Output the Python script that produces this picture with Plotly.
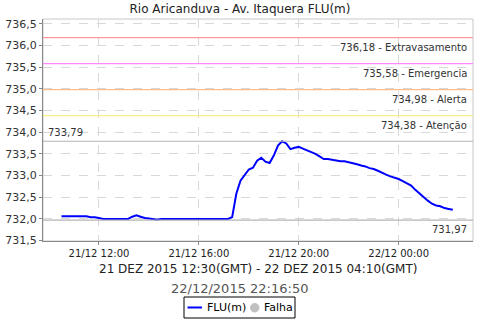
import plotly.graph_objects as go

# ---- data ----
times = [
    "2015-12-21 10:30", "2015-12-21 10:40", "2015-12-21 10:50", "2015-12-21 11:00",
    "2015-12-21 11:10", "2015-12-21 11:20", "2015-12-21 11:30", "2015-12-21 11:40",
    "2015-12-21 11:50", "2015-12-21 12:00", "2015-12-21 12:10", "2015-12-21 12:20",
    "2015-12-21 12:30", "2015-12-21 12:40", "2015-12-21 12:50", "2015-12-21 13:00",
    "2015-12-21 13:10", "2015-12-21 13:20", "2015-12-21 13:30", "2015-12-21 13:40",
    "2015-12-21 13:50", "2015-12-21 14:00", "2015-12-21 14:10", "2015-12-21 14:20",
    "2015-12-21 14:30", "2015-12-21 14:40", "2015-12-21 14:50", "2015-12-21 15:00",
    "2015-12-21 15:10", "2015-12-21 15:20", "2015-12-21 15:30", "2015-12-21 15:40",
    "2015-12-21 15:50", "2015-12-21 16:00", "2015-12-21 16:10", "2015-12-21 16:20",
    "2015-12-21 16:30", "2015-12-21 16:40", "2015-12-21 16:50", "2015-12-21 17:00",
    "2015-12-21 17:10", "2015-12-21 17:20", "2015-12-21 17:30", "2015-12-21 17:40",
    "2015-12-21 17:50", "2015-12-21 18:00", "2015-12-21 18:10", "2015-12-21 18:20",
    "2015-12-21 18:30", "2015-12-21 18:40", "2015-12-21 18:50", "2015-12-21 19:00",
    "2015-12-21 19:10", "2015-12-21 19:20", "2015-12-21 19:30", "2015-12-21 19:40",
    "2015-12-21 19:50", "2015-12-21 20:00", "2015-12-21 20:10", "2015-12-21 20:20",
    "2015-12-21 20:30", "2015-12-21 20:40", "2015-12-21 20:50", "2015-12-21 21:00",
    "2015-12-21 21:10", "2015-12-21 21:20", "2015-12-21 21:30", "2015-12-21 21:40",
    "2015-12-21 21:50", "2015-12-21 22:00", "2015-12-21 22:10", "2015-12-21 22:20",
    "2015-12-21 22:30", "2015-12-21 22:40", "2015-12-21 22:50", "2015-12-21 23:00",
    "2015-12-21 23:10", "2015-12-21 23:20", "2015-12-21 23:30", "2015-12-21 23:40",
    "2015-12-21 23:50", "2015-12-22 00:00", "2015-12-22 00:10", "2015-12-22 00:20",
    "2015-12-22 00:30", "2015-12-22 00:40", "2015-12-22 00:50", "2015-12-22 01:00",
    "2015-12-22 01:10", "2015-12-22 01:20", "2015-12-22 01:30", "2015-12-22 01:40",
    "2015-12-22 01:50", "2015-12-22 02:00", "2015-12-22 02:10",
]
flu = [
    732.06, 732.06, 732.06, 732.06, 732.06, 732.06, 732.06, 732.04,
    732.04, 732.02, 732.00, 732.00, 732.00, 732.00, 732.00, 732.00,
    732.00, 732.05, 732.08, 732.05, 732.02, 732.01, 732.00, 731.98,
    732.00, 732.00, 732.00, 732.00, 732.00, 732.00, 732.00, 732.00,
    732.00, 732.00, 732.00, 732.00, 732.00, 732.00, 732.00, 732.00,
    732.00, 732.04, 732.58, 732.88, 733.00, 733.14, 733.18, 733.34,
    733.41, 733.32, 733.29, 733.46, 733.69, 733.79, 733.74, 733.61,
    733.64, 733.66, 733.62, 733.58, 733.54, 733.50, 733.44, 733.38,
    733.38, 733.36, 733.35, 733.33, 733.33, 733.31, 733.29, 733.26,
    733.23, 733.21, 733.17, 733.15, 733.11, 733.06, 733.02, 732.98,
    732.95, 732.92, 732.87, 732.82, 732.77, 732.67, 732.58, 732.50,
    732.42, 732.35, 732.31, 732.29, 732.25, 732.23, 732.21,
]
threshold_values = [736.18, 735.58, 734.98, 734.38]
threshold_names = ["Extravasamento", "Emergencia", "Alerta", "Atenção"]
threshold_colors = ["#ff9999", "#ff88ff", "#ffbb88", "#ffee88"]
max_value = 733.79
min_value = 731.97
y_ticks = [731.5, 732.0, 732.5, 733.0, 733.5, 734.0, 734.5, 735.0, 735.5, 736.0, 736.5]
x_ticks = ["2015-12-21 12:00", "2015-12-21 16:00", "2015-12-21 20:00", "2015-12-22 00:00"]
x_tick_labels = ["21/12 12:00", "21/12 16:00", "21/12 20:00", "22/12 00:00"]
legend_names = ["FLU(m)", "Falha"]

FONT = "DejaVu Sans"

# plot area in pixels (for paper-coordinate placement of decorations)
L, R, T, B = 43, 7, 19, 79
PW, PH = 480 - L - R, 320 - T - B

def px(x):
    return (x - L) / PW

def py(y):
    return (320 - B - y) / PH

def fmt(v):
    return f"{v:.2f}".replace(".", ",")

fig = go.Figure()
fig.add_trace(go.Scatter(x=times, y=flu, mode="lines", name=legend_names[0],
                         line=dict(color="#0000ff", width=2), showlegend=False))

shapes = []
annotations = []
for v, n, c in zip(threshold_values, threshold_names, threshold_colors):
    shapes.append(dict(type="line", xref="paper", x0=0, x1=1, yref="y", y0=v, y1=v,
                       line=dict(color=c, width=1.3), layer="above"))
    annotations.append(dict(xref="paper", x=0.991, yref="y", y=v, text=f"{fmt(v)} - {n}",
                            showarrow=False, xanchor="right", yanchor="top", yshift=-2,
                            font=dict(family=FONT, size=10, color="#333333")))
shapes.append(dict(type="line", xref="paper", x0=0, x1=1, yref="y", y0=max_value, y1=max_value,
                   line=dict(color="#b4b4b4", width=1.2), layer="above"))
annotations.append(dict(xref="paper", x=0.006, yref="y", y=max_value, text=fmt(max_value),
                        showarrow=False, xanchor="left", yanchor="bottom", yshift=1,
                        font=dict(family=FONT, size=10, color="#333333")))
shapes.append(dict(type="line", xref="paper", x0=0, x1=1, yref="y", y0=min_value, y1=min_value,
                   line=dict(color="#b4b4b4", width=1.2), layer="above"))
annotations.append(dict(xref="paper", x=0.991, yref="y", y=min_value, text=fmt(min_value),
                        showarrow=False, xanchor="right", yanchor="top", yshift=-2,
                        font=dict(family=FONT, size=10, color="#333333")))
# plot border
shapes.append(dict(type="rect", xref="paper", yref="paper", x0=0, x1=1, y0=0, y1=1,
                   line=dict(color="#c8c8c8", width=1), layer="below"))

annotations.append(dict(xref="paper", yref="paper", x=px(257.5), y=py(269), yanchor="middle",
                        xanchor="center",
                        text="21 DEZ 2015 12:30(GMT) - 22 DEZ 2015 04:10(GMT)", showarrow=False,
                        font=dict(family=FONT, size=12, color="#222222")))
annotations.append(dict(xref="paper", yref="paper", x=px(239.5), y=py(288), yanchor="middle",
                        xanchor="center",
                        text="22/12/2015 22:16:50", showarrow=False,
                        font=dict(family=FONT, size=13, color="#555555")))

# legend box (drawn manually to match the compact original)
shapes.append(dict(type="rect", xref="paper", yref="paper", x0=px(184), x1=px(295),
                   y0=py(318), y1=py(297), line=dict(color="#000000", width=1),
                   fillcolor="white"))
shapes.append(dict(type="line", xref="paper", yref="paper", x0=px(187.5), x1=px(202),
                   y0=py(307.5), y1=py(307.5), line=dict(color="#0000ff", width=2)))
annotations.append(dict(xref="paper", yref="paper", x=px(205), y=py(307.5), xanchor="left",
                        yanchor="middle", text=legend_names[0], showarrow=False,
                        font=dict(family=FONT, size=11, color="#000000")))
shapes.append(dict(type="circle", xref="paper", yref="paper", x0=px(250.5), x1=px(259),
                   y0=py(312), y1=py(303.5), line=dict(color="#c0c0c0", width=1),
                   fillcolor="#c0c0c0"))
annotations.append(dict(xref="paper", yref="paper", x=px(261.5), y=py(307.5), xanchor="left",
                        yanchor="middle", text=legend_names[1], showarrow=False,
                        font=dict(family=FONT, size=11, color="#000000")))

fig.update_layout(
    width=480, height=320,
    margin=dict(l=L, r=R, t=T, b=B, autoexpand=False),
    paper_bgcolor="white", plot_bgcolor="white",
    separators=",.",
    title=dict(text="Rio Aricanduva - Av. Itaquera FLU(m)", x=px(240), xanchor="center",
               xref="paper", y=1 - 8.5 / 320, yanchor="middle",
               font=dict(family=FONT, size=12, color="#222222")),
    font=dict(family=FONT),
    showlegend=False,
    shapes=shapes,
    annotations=annotations,
)
fig.update_xaxes(range=["2015-12-21 09:45:36", "2015-12-22 02:58:34"],
                 tickvals=x_ticks, ticktext=x_tick_labels,
                 tickfont=dict(family=FONT, size=10, color="#222222"),
                 showgrid=True, gridcolor="#d8d8d8", griddash="dash", gridwidth=1,
                 showline=True, linecolor="#888888", linewidth=1,
                 ticks="outside", ticklen=3, tickcolor="#888888", zeroline=False)
fig.update_yaxes(range=[731.49, 736.61], tickvals=y_ticks, tickformat=".1f",
                 tickfont=dict(family=FONT, size=11, color="#333333"),
                 showgrid=True, gridcolor="#d8d8d8", griddash="dash", gridwidth=1,
                 showline=True, linecolor="#888888", linewidth=1,
                 ticks="outside", ticklen=3, tickcolor="#888888", zeroline=False)

fig.write_html("out.html")
